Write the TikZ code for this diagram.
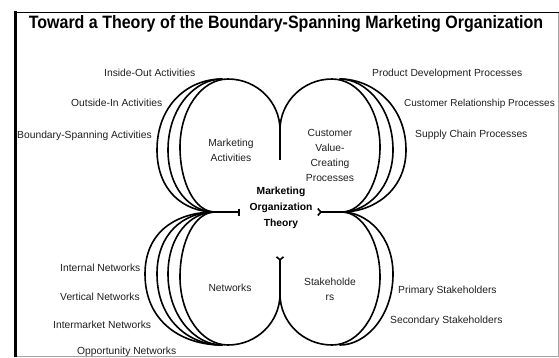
\documentclass[tikz,border=0pt]{standalone}
\usepackage{fontspec}
\usepackage{graphicx}
\setmainfont{Liberation Sans}
\usetikzlibrary{arrows.meta}
\tikzset{
  loopline/.style={line width=1.6pt, line join=round, line cap=round},
  stubline/.style={line width=1.6pt},
  lbl/.style={font=\fontsize{10.3}{12}\selectfont, text=black!88, inner sep=0pt, anchor=base west},
  inlbl/.style={font=\fontsize{10.3}{15}\selectfont, text=black!88, inner sep=0pt, align=center},
  centerlbl/.style={font=\bfseries\fontsize{10.3}{16}\selectfont, text=black, inner sep=0pt, align=center},
  titlelbl/.style={font=\bfseries\fontsize{16}{18}\selectfont, text=black, inner sep=0pt, anchor=base},
}
\begin{document}
\begin{tikzpicture}[x=1pt,y=-1pt]
\useasboundingbox (0,0) rectangle (559,357);
% frame
\draw[black!35, line width=0.8pt] (15,356) -- (558,356) -- (558,12);
\draw[black, line width=1pt] (15,12) -- (559,12);
\draw[black, line width=3pt] (15,11) -- (15,357);
% title
\node[titlelbl] (title) at (286,28) {\scalebox{1}[1.12]{Toward a Theory of the Boundary-Spanning Marketing Organization}};
% cusps
\coordinate (L) at (215,212);
\coordinate (Lend) at (240,212);
\coordinate (R) at (342,212);
\coordinate (Rend) at (317,212);
\coordinate (T) at (280,130);
\coordinate (Tend) at (280,160);
\coordinate (B) at (280,294);
\coordinate (Bend) at (280,256);
% top-left loop
\draw[loopline] (L) .. controls (195,212) and (180,183) .. (180,147)
   .. controls (180,110) and (201,79) .. (228,79)
   .. controls (257,79) and (280,102) .. (T);
\draw[loopline] (L) .. controls (190,212) and (168,188) .. (168,150)
   .. controls (168,108) and (195,79) .. (222,79);
\draw[loopline] (L) .. controls (183,212) and (157,190) .. (157,150)
   .. controls (157,105) and (188,79) .. (222,79);
% top-right loop
\draw[loopline] (R) .. controls (362,212) and (380,183) .. (380,147)
   .. controls (380,110) and (359,79) .. (332,79)
   .. controls (303,79) and (280,102) .. (T);
\draw[loopline] (R) .. controls (367,212) and (393,188) .. (393,150)
   .. controls (393,108) and (366,79) .. (340,79);
\draw[loopline] (R) .. controls (374,212) and (406,190) .. (406,150)
   .. controls (406,105) and (372,79) .. (340,79);
% bottom-left loop
\draw[loopline] (L) .. controls (195,212) and (180,241) .. (180,277)
   .. controls (180,314) and (201,345) .. (228,345)
   .. controls (257,345) and (280,322) .. (B);
\draw[loopline] (L) .. controls (190,212) and (168,236) .. (168,274)
   .. controls (168,316) and (195,345) .. (222,345);
\draw[loopline] (L) .. controls (183,212) and (157,234) .. (157,274)
   .. controls (157,319) and (188,345) .. (222,345);
\draw[loopline] (L) .. controls (176,212) and (145,232) .. (145,274)
   .. controls (145,322) and (182,345) .. (222,345);
% bottom-right loop
\draw[loopline] (R) .. controls (362,212) and (380,241) .. (380,277)
   .. controls (380,314) and (359,345) .. (332,345)
   .. controls (303,345) and (280,322) .. (B);
\draw[loopline] (R) .. controls (367,212) and (393,236) .. (393,274)
   .. controls (393,316) and (366,345) .. (340,345);
% stubs
\draw[stubline] (T) -- (Tend);
\draw[stubline, -{Straight Barb[reversed, length=3pt, width=7pt]}] (B) -- (Bend);
\draw[stubline, -{Bar[width=7pt]}] (L) -- (Lend);
\draw[stubline, -{Straight Barb[reversed, length=3pt, width=7pt]}] (R) -- (Rend);
% inner labels
\node[inlbl] (ma) at (231,150) {Marketing\\Activities};
\node[inlbl] (cvcp) at (330,155) {Customer\\Value-\\Creating\\Processes};
\node[centerlbl] (mot) at (281,208) {Marketing\\Organization\\Theory};
\node[inlbl] (net) at (230,288) {Networks};
\node[inlbl] (stk) at (330,289) {Stakeholde\\rs};
% outer labels
\node[lbl] (io) at (104,76.5) {Inside-Out Activities};
\node[lbl] (oi) at (71,106.5) {Outside-In Activities};
\node[lbl] (bs) at (17,138.5) {Boundary-Spanning Activities};
\node[lbl] (pd) at (372,76.5) {Product Development Processes};
\node[lbl, font=\fontsize{10}{12}\selectfont] (cr) at (404,106.5) {Customer Relationship Processes};
\node[lbl] (sc) at (415,137.5) {Supply Chain Processes};
\node[lbl] (in) at (60,271) {Internal Networks};
\node[lbl] (vn) at (60,300) {Vertical Networks};
\node[lbl] (im) at (53,328) {Intermarket Networks};
\node[lbl] (on) at (77,354) {Opportunity Networks};
\node[lbl] (ps) at (398,293) {Primary Stakeholders};
\node[lbl] (ss) at (390,323.5) {Secondary Stakeholders};
\end{tikzpicture}
\end{document}
